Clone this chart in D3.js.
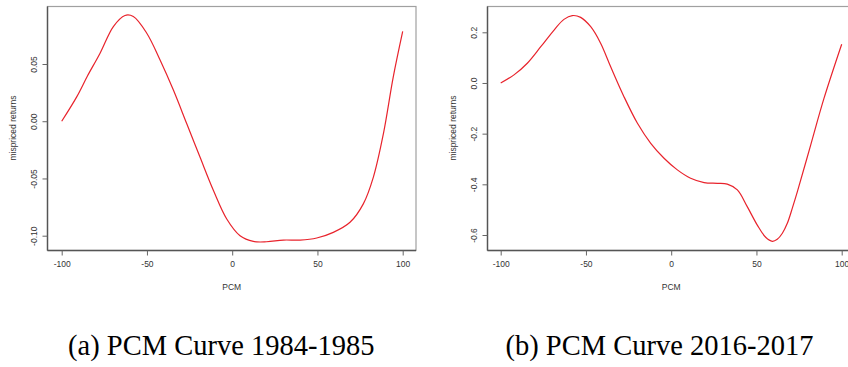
<!DOCTYPE html>
<html>
<head>
<meta charset="utf-8">
<script src="https://cdn.jsdelivr.net/npm/d3@7"></script>
<style>
  body { margin: 0; background: #fff; }
  svg { display: block; }
</style>
</head>
<body>
<script>
const WIDTH = 848;
const HEIGHT = 367;

// Panel (a) 1984-1985
const pcmA = [-100, -91.2, -84.9, -77.5, -69.7, -62.9, -58, -50.1, -42.3, -34.5, -26.7, -18.9,
              -11, -3.2, 4.6, 12.4, 20.2, 30, 39.8, 49.6, 59.3, 69.1, 76.9, 82.8, 88.7, 94.5, 100];
const retA = [0, 0.0213, 0.0395, 0.0594, 0.0827, 0.0924, 0.0915, 0.0769, 0.0535, 0.0272, -0.002, -0.0313,
              -0.0605, -0.0854, -0.1, -0.105, -0.1053, -0.1038, -0.1038, -0.102, -0.0971, -0.0883, -0.0722,
              -0.0488, -0.0108, 0.0389, 0.0784];
const yTicksA = [-0.10, -0.05, 0.00, 0.05];

// Panel (b) 2016-2017
const pcmB = [-100, -92.2, -84.4, -76.5, -68.7, -62.9, -58, -53.1, -47.2, -41.4, -35.5, -27.7, -19.8,
              -12, -4.2, 3.6, 11.4, 19.3, 27.1, 32.9, 38.8, 44.6, 50.5, 55.4, 59.3, 62.2, 65.2,
              68.1, 71, 74, 81.8, 89.6, 100];
const retB = [0, 0.032, 0.078, 0.143, 0.209, 0.251, 0.266, 0.259, 0.222, 0.157, 0.064, -0.054, -0.159,
              -0.238, -0.297, -0.343, -0.376, -0.393, -0.396, -0.399, -0.422, -0.488, -0.561, -0.609,
              -0.625, -0.617, -0.593, -0.554, -0.495, -0.429, -0.245, -0.061, 0.153];
const yTicksB = [-0.6, -0.4, -0.2, 0.0, 0.2];

const xTicks = [-100, -50, 0, 50, 100];

const svg = d3.select("body").append("svg")
    .attr("width", WIDTH)
    .attr("height", HEIGHT);

// R prints a plain hyphen, not the unicode minus d3 uses
const hyphen = f => d => f(d).replace("\u2212", "-");

function drawPanel(opts) {
  const g = svg.append("g");
  const x = d3.scaleLinear().domain([-100, 100]).range(opts.xRange);
  const y = d3.scaleLinear().domain(opts.yDomain).range(opts.yRange);

  // light frame round the plot region
  g.append("rect")
    .attr("x", opts.box[0]).attr("y", opts.box[1])
    .attr("width", opts.box[2] - opts.box[0]).attr("height", opts.box[3] - opts.box[1])
    .attr("fill", "none").attr("stroke", "#a0a0a0").attr("stroke-width", 1.2);

  // x axis
  const xAxis = d3.axisBottom(x).tickValues(xTicks).tickSize(5).tickPadding(5)
    .tickFormat(hyphen(d3.format("d")));
  const gx = g.append("g")
    .attr("transform", "translate(0," + opts.box[3] + ")")
    .call(xAxis);
  gx.select(".domain").attr("d", "M" + opts.box[0] + ",0H" + opts.box[2])
    .attr("stroke", "#555").attr("stroke-width", 1.4);

  // y axis
  const yAxis = d3.axisLeft(y).tickValues(opts.yTicks).tickSize(5).tickPadding(0)
    .tickFormat(hyphen(opts.fmt));
  const gy = g.append("g")
    .attr("transform", "translate(" + opts.box[0] + ",0)")
    .call(yAxis);
  gy.select(".domain").attr("d", "M0," + opts.box[1] + "V" + opts.box[3])
    .attr("stroke", "#555").attr("stroke-width", 1.4);
  gy.selectAll(".tick text")
    .attr("x", null).attr("dy", null)
    .attr("transform", "translate(-14,0) rotate(-90)")
    .attr("text-anchor", "middle")
    .attr("dominant-baseline", "central");

  [gx, gy].forEach(a => {
    a.selectAll(".tick line").attr("stroke", "#666");
    a.selectAll(".tick text")
      .attr("fill", "#333")
      .style("font-family", "'Liberation Sans', Arial, sans-serif")
      .style("font-size", "8.5px");
  });

  // axis titles
  g.append("text")
    .attr("x", (opts.box[0] + opts.box[2]) / 2)
    .attr("y", 287)
    .attr("text-anchor", "middle")
    .attr("dominant-baseline", "central")
    .attr("fill", "#333")
    .style("font-family", "'Liberation Sans', Arial, sans-serif")
    .style("font-size", "8.5px")
    .text("PCM");

  g.append("text")
    .attr("transform", "translate(" + (opts.box[0] - 35) + ",128) rotate(-90)")
    .attr("text-anchor", "middle")
    .attr("dominant-baseline", "central")
    .attr("fill", "#333")
    .style("font-family", "'Liberation Sans', Arial, sans-serif")
    .style("font-size", "8.5px")
    .text("mispriced returns");

  // curve
  const pts = opts.pcm.map((p, i) => [p, opts.ret[i]]);
  g.append("path")
    .datum(pts)
    .attr("fill", "none")
    .attr("stroke", "#e8232c")
    .attr("stroke-width", 1.2)
    .attr("d", d3.line().x(d => x(d[0])).y(d => y(d[1])).curve(d3.curveCatmullRom.alpha(0.5)));

  // caption
  svg.append("text")
    .attr("x", opts.capX)
    .attr("y", 355)
    .attr("text-anchor", "middle")
    .attr("fill", "#000")
    .style("font-family", "'Liberation Serif', 'Times New Roman', serif")
    .style("font-size", "28.5px")
    .text(opts.caption);
}

drawPanel({
  xRange: [61.7, 402.7],
  yDomain: [0.05, -0.10], yRange: [64, 235.7],
  box: [47.5, 6.5, 416, 250.5],
  yTicks: yTicksA, fmt: d3.format(".2f"),
  pcm: pcmA, ret: retA,
  capX: 221.3, caption: "(a) PCM Curve 1984-1985"
});

drawPanel({
  xRange: [500.7, 841.7],
  yDomain: [0.2, -0.6], yRange: [32.3, 235],
  box: [487.5, 6.5, 855, 250.5],
  yTicks: yTicksB, fmt: d3.format(".1f"),
  pcm: pcmB, ret: retB,
  capX: 659.5, caption: "(b) PCM Curve 2016-2017"
});
</script>
</body>
</html>
